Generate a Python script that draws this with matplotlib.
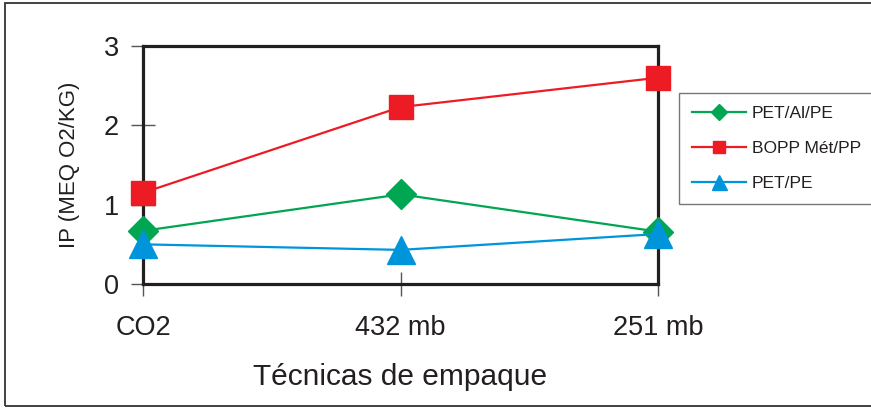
import matplotlib
matplotlib.use('Agg')
import matplotlib.pyplot as plt
from matplotlib.patches import Rectangle

plt.rcParams['font.family'] = ['Liberation Sans', 'DejaVu Sans']

categories = ['CO2', '432 mb', '251 mb']
pet_al_pe = [0.67, 1.13, 0.66]
bopp_met_pp = [1.15, 2.23, 2.60]
pet_pe = [0.50, 0.43, 0.63]
y_ticks = [0, 1, 2, 3]

green = '#00a651'
red = '#ed1c24'
blue = '#0095da'
dark = '#231f20'

W, H = 871, 408
fig = plt.figure(figsize=(W / 100, H / 100), dpi=100)

# outer frame
fig.add_artist(Rectangle((5 / W, 2 / H), 1.0, 1 - 5 / H, transform=fig.transFigure,
                         fill=False, edgecolor='#333333', linewidth=1.3))

ax = fig.add_axes([143 / W, 1 - 284 / H, (658 - 143) / W, (284 - 46) / H])
x = list(range(len(categories)))

ax.plot(x, pet_al_pe, color=green, lw=1.6, marker='D', ms=14.8, label='PET/Al/PE',
        clip_on=False, zorder=3)
ax.plot(x, bopp_met_pp, color=red, lw=1.6, marker='s', ms=17, label='BOPP Mét/PP',
        clip_on=False, zorder=3)
ax.plot(x, pet_pe, color=blue, lw=1.6, marker='^', ms=20, label='PET/PE',
        clip_on=False, zorder=3)

ax.set_xlim(0, 2)
ax.set_ylim(0, 3)
ax.set_xticks(x)
ax.set_xticklabels(categories)
ax.set_yticks(y_ticks)

for s in ax.spines.values():
    s.set_linewidth(2.3)
    s.set_color(dark)

ax.tick_params(axis='both', direction='inout', length=17, width=1, color='#555555',
               labelsize=19.5, labelcolor=dark)
ax.tick_params(axis='x', pad=13.5)
ax.tick_params(axis='y', pad=9)

ax.set_xlabel('Técnicas de empaque', fontsize=21.5, color=dark, labelpad=16)
ax.set_ylabel('IP (MEQ O2/KG)', fontsize=16, color=dark)
ax.yaxis.set_label_coords(-0.122, 0.5)

leg = ax.legend(loc='upper left', bbox_to_anchor=(679 / W, 1 - 93 / H),
                bbox_transform=fig.transFigure, fontsize=12.5, frameon=True,
                fancybox=False, edgecolor='#555555', borderpad=0.75, labelspacing=1.15,
                handlelength=3.1, handletextpad=0.35, markerscale=0.54, borderaxespad=0)
leg.get_frame().set_linewidth(1.0)
for t in leg.get_texts():
    t.set_color(dark)

fig.savefig('out.png', dpi=100)
